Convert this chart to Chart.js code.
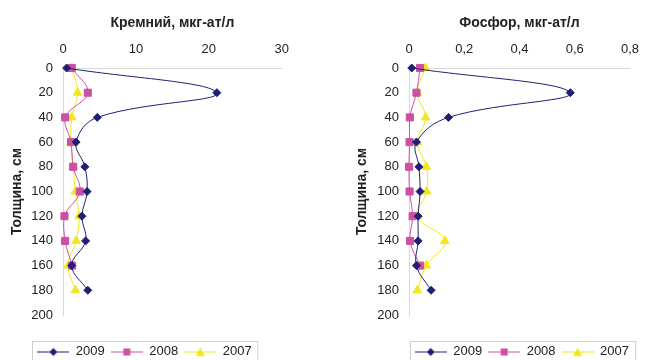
<!DOCTYPE html>
<html>
<head>
<meta charset="utf-8">
<script src="https://cdn.jsdelivr.net/npm/chart.js@4.4.1/dist/chart.umd.min.js"></script>
<style>
  html, body { margin: 0; padding: 0; background: #fff; overflow: hidden; width: 645px; height: 360px; }
  .panel { position: absolute; top: 0; height: 368px; }
  #siPanel { left: 0; width: 300px; }
  #pPanel { left: 345px; width: 305px; }
</style>
</head>
<body>
<div class="panel" id="siPanel"><canvas id="siChart"></canvas></div>
<div class="panel" id="pPanel"><canvas id="pChart"></canvas></div>
<script>
// depth, cm (y axis)
const depths = [0, 20, 40, 60, 80, 100, 120, 140, 160, 180];
const depthTicks = [0, 20, 40, 60, 80, 100, 120, 140, 160, 180, 200];
const years = ["2009", "2008", "2007"];

// silicon, mkg-at/l
const si2009 = [0.5, 21.1, 4.7, 1.8, 3.0, 3.3, 2.6, 3.1, 1.2, 3.4];
const si2008 = [1.2, 3.4, 0.3, 1.1, 1.4, 2.3, 0.2, 0.3, 1.25, null];
const si2007 = [1.2, 2.0, 1.2, 1.1, 1.4, 1.7, 2.2, 1.8, 0.7, 1.7];
const siTicks = [0, 10, 20, 30];
const siTickLabels = ["0", "10", "20", "30"];

// phosphorus, mkg-at/l
const p2009 = [0.01, 0.584, 0.143, 0.027, 0.036, 0.04, 0.033, 0.033, 0.027, 0.08];
const p2008 = [0.04, 0.027, 0.003, 0.002, 0, 0.002, 0.013, 0.004, 0.04, null];
const p2007 = [0.06, 0.03, 0.06, 0.03, 0.063, 0.064, 0.03, 0.13, 0.063, 0.03];
const pTicks = [0, 0.2, 0.4, 0.6, 0.8];
const pTickLabels = ["0", "0,2", "0,4", "0,6", "0,8"];

const seriesColors = ["#1f1f73", "#cc4fa3", "#f2e61e"];
const seriesShapes = ["rectRot", "rect", "triangle"];
const seriesRadius = [4, 5, 5];

Chart.defaults.font.family = "'Liberation Sans', Arial, sans-serif";
Chart.defaults.font.size = 13;
Chart.defaults.color = "#222";

function toPoints(values) {
  return depths
    .map((d, i) => ({ x: values[i], y: d }))
    .filter(p => p.x !== null);
}

function makeLegendIcon(color, shape) {
  const c = document.createElement("canvas");
  c.width = 32;
  c.height = 12;
  const ctx = c.getContext("2d");
  ctx.strokeStyle = color;
  ctx.fillStyle = color;
  ctx.lineWidth = 1;
  ctx.beginPath();
  ctx.moveTo(0, 6.5);
  ctx.lineTo(32, 6.5);
  ctx.stroke();
  ctx.beginPath();
  if (shape === "rectRot") {
    ctx.moveTo(16, 2.5); ctx.lineTo(20, 6.5); ctx.lineTo(16, 10.5); ctx.lineTo(12, 6.5);
  } else if (shape === "rect") {
    ctx.rect(12.5, 3, 7, 7);
  } else {
    ctx.moveTo(16, 2); ctx.lineTo(20.5, 10.5); ctx.lineTo(11.5, 10.5);
  }
  ctx.closePath();
  ctx.fill();
  return c;
}

const legendIcons = seriesColors.map((c, i) => makeLegendIcon(c, seriesShapes[i]));

// thin frame round the legend, like the original
const legendFrame = {
  id: "legendFrame",
  afterDraw(chart) {
    const legend = chart.legend;
    if (!legend || !legend.legendHitBoxes.length) return;
    const boxes = legend.legendHitBoxes;
    const left = Math.min(...boxes.map(b => b.left)) - 5;
    const right = Math.max(...boxes.map(b => b.left + b.width)) + 6;
    const top = legend.top + 2;
    const ctx = chart.ctx;
    ctx.save();
    ctx.strokeStyle = "#d0d0d0";
    ctx.lineWidth = 1;
    ctx.strokeRect(Math.round(left) + 0.5, Math.round(top) + 0.5, right - left, chart.height);
    ctx.restore();
  }
};

function makeProfileChart(canvas, cfg) {
  const datasets = cfg.series.map((values, i) => ({
    label: years[i],
    data: toPoints(values),
    showLine: true,
    tension: 0.4,
    borderColor: seriesColors[i],
    backgroundColor: seriesColors[i],
    borderWidth: 1,
    pointStyle: seriesShapes[i],
    pointRadius: seriesRadius[i],
    pointHoverRadius: seriesRadius[i],
    clip: false
  }));

  return new Chart(canvas, {
    type: "scatter",
    data: { datasets },
    options: {
      responsive: true,
      maintainAspectRatio: false,
      animation: false,
      layout: { padding: { top: 0, left: 4, right: cfg.padRight, bottom: 0 } },
      plugins: {
        tooltip: { enabled: false },
        legend: {
          position: "bottom",
          align: cfg.legendAlign,
          labels: {
            usePointStyle: true,
            pointStyleWidth: 32,
            padding: 6,
            color: "#222",
            font: { size: 13 },
            generateLabels(chart) {
              const items = Chart.defaults.plugins.legend.labels.generateLabels(chart);
              return items.map((item, i) => ({ ...item, pointStyle: legendIcons[i] }));
            }
          }
        }
      },
      scales: {
        x: {
          type: "linear",
          position: "top",
          min: cfg.ticks[0],
          max: cfg.ticks[cfg.ticks.length - 1],
          afterBuildTicks: scale => { scale.ticks = cfg.ticks.map(v => ({ value: v })); },
          afterFit: scale => { scale.height = 68; },
          ticks: {
            padding: 11,
            color: "#222",
            font: { size: 13 },
            callback: value => cfg.tickLabels[cfg.ticks.indexOf(value)]
          },
          grid: { display: false, drawTicks: false },
          border: { display: true, color: "#d9d9d9" },
          title: {
            display: true,
            text: cfg.title,
            color: "#222",
            font: { size: 14, weight: "bold" },
            padding: { top: 15, bottom: 0 }
          }
        },
        xPad: {
          type: "linear",
          position: "bottom",
          display: true,
          ticks: { display: false },
          grid: { display: false, drawTicks: false },
          border: { display: false },
          afterFit: scale => { scale.height = 24; }
        },
        y: {
          type: "linear",
          reverse: true,
          min: 0,
          max: 200,
          afterBuildTicks: scale => { scale.ticks = depthTicks.map(v => ({ value: v })); },
          afterFit: scale => { scale.width = cfg.yWidth; },
          ticks: { padding: 10, color: "#222", font: { size: 13 } },
          grid: { display: false, drawTicks: false },
          border: { display: true, color: "#d9d9d9" },
          title: {
            display: true,
            text: "Толщина, см",
            color: "#222",
            font: { size: 14, weight: "bold" },
            padding: { top: 5, bottom: 0 }
          }
        }
      }
    },
    plugins: [legendFrame]
  });
}

makeProfileChart(document.querySelector("#siChart"), {
  title: "Кремний, мкг-ат/л",
  series: [si2009, si2008, si2007],
  ticks: siTicks,
  tickLabels: siTickLabels,
  yWidth: 59,
  padRight: 15,
  legendAlign: "center"
});

makeProfileChart(document.querySelector("#pChart"), {
  title: "Фосфор, мкг-ат/л",
  series: [p2009, p2008, p2007],
  ticks: pTicks,
  tickLabels: pTickLabels,
  yWidth: 60,
  padRight: 15,
  legendAlign: "end"
});
</script>
</body>
</html>
